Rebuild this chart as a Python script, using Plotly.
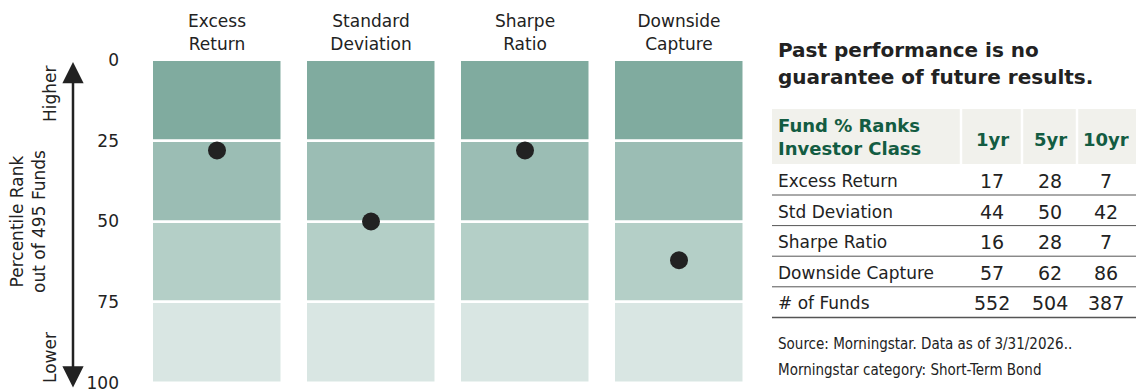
import plotly.graph_objects as go

# ---------------- data ----------------
categories = ["Excess<br>Return", "Standard<br>Deviation", "Sharpe<br>Ratio", "Downside<br>Capture"]
band_edges = [0, 25, 50, 75, 100]
band_colors = ["#80ab9f", "#9bbdb4", "#b4cfc7", "#d9e6e3"]
y_tick_vals = [0, 25, 50, 75, 100]

table_rows = ["Excess Return", "Std Deviation", "Sharpe Ratio", "Downside Capture", "# of Funds"]
table_cols = ["1yr", "5yr", "10yr"]
rank_1yr = [17, 44, 16, 57, 552]
rank_5yr = [28, 50, 28, 62, 504]
rank_10yr = [7, 42, 7, 86, 387]

dot_values = rank_5yr[:4]

title_lines = ["Past performance is no", "guarantee of future results."]
header_label = "Fund % Ranks<br>Investor Class"
source_lines = ["Source: Morningstar. Data as of 3/31/2026..", "Morningstar category: Short-Term Bond"]

# ---------------- layout helpers ----------------
W, H = 1136, 392
ML, MR, MT, MB = 140, 380, 60, 9
PW, PH = W - ML - MR, H - MT - MB


def px(xp):
    return (xp - ML) / PW


def py(yp):
    return (H - MB - yp) / PH


FONT = "DejaVu Sans, Open Sans, sans-serif"
TXT = "#222222"
GREEN = "#135c42"

fig = go.Figure()

xs = list(range(len(categories)))
for i in range(len(band_colors)):
    lo, hi = band_edges[i], band_edges[i + 1]
    fig.add_trace(go.Bar(
        x=xs, y=[hi - lo] * len(xs), base=[lo] * len(xs),
        width=0.85, marker=dict(color=band_colors[i], line=dict(color="white", width=2.5)),
        hoverinfo="skip", showlegend=False,
    ))

fig.add_trace(go.Scatter(
    x=xs, y=dot_values, mode="markers",
    marker=dict(size=18, color=TXT), showlegend=False, hoverinfo="skip",
))

fig.update_layout(
    width=W, height=H, margin=dict(l=ML, r=MR, t=MT, b=MB, autoexpand=False),
    paper_bgcolor="white", plot_bgcolor="white",
    barmode="overlay", bargap=0,
    font=dict(family=FONT, color=TXT),
    xaxis=dict(range=[-0.5, 3.5], side="top", tickvals=xs, ticktext=categories,
               tickfont=dict(size=17, color=TXT), showgrid=False, zeroline=False,
               showline=False, ticks="", ticklabelstandoff=6, fixedrange=True,
               automargin=False),
    yaxis=dict(range=[100, 0], tickvals=y_tick_vals, tickfont=dict(size=17, color=TXT),
               showgrid=False, zeroline=False, showline=False, ticks="",
               ticklabelstandoff=20, ticklabeloverflow="allow", fixedrange=True,
               automargin=False),
)

anns = []
shapes = []

# double arrow
anns.append(dict(xref="paper", yref="paper", x=px(73), y=py(62), ax=0, ay=327,
                 text="", showarrow=True, arrowside="end+start", arrowhead=2,
                 startarrowhead=2, arrowsize=1.7, startarrowsize=1.7, arrowwidth=2.5,
                 arrowcolor=TXT))
anns.append(dict(xref="paper", yref="paper", x=px(50), y=py(94), text="Higher",
                 xanchor="center", yanchor="middle",
                 textangle=-90, showarrow=False, font=dict(size=17, color=TXT)))
anns.append(dict(xref="paper", yref="paper", x=px(50), y=py(358), text="Lower",
                 xanchor="center", yanchor="middle",
                 textangle=-90, showarrow=False, font=dict(size=17, color=TXT)))
anns.append(dict(xref="paper", yref="paper", x=px(28), y=py(222),
                 text="Percentile Rank<br>out of 495 Funds", xanchor="center", yanchor="middle",
                 textangle=-90, showarrow=False, font=dict(size=17, color=TXT)))

# title
for k, line in enumerate(title_lines):
    anns.append(dict(xref="paper", yref="paper", x=px(776), y=py(50 + 27 * k), xanchor="left",
                     yanchor="middle", text="<b>" + line + "</b>", showarrow=False,
                     font=dict(size=20, color=TXT)))

# table header background
shapes.append(dict(type="rect", xref="paper", yref="paper", x0=px(772), x1=px(1140),
                   y0=py(164), y1=py(109), fillcolor="#f1f1ec", line=dict(width=0), layer="below"))
for sx in [961, 1022, 1077]:
    shapes.append(dict(type="line", xref="paper", yref="paper", x0=px(sx), x1=px(sx),
                       y0=py(164), y1=py(109), line=dict(color="white", width=2.5)))
anns.append(dict(xref="paper", yref="paper", x=px(776), y=py(137), xanchor="left", yanchor="middle",
                 text="<b>" + header_label + "</b>", showarrow=False, align="left",
                 font=dict(size=18, color=GREEN)))
col_x = [992, 1050, 1106]
for cx, c in zip(col_x, table_cols):
    anns.append(dict(xref="paper", yref="paper", x=px(cx), y=py(139), xanchor="center",
                     yanchor="middle", text="<b>" + c + "</b>", showarrow=False,
                     font=dict(size=18, color=GREEN)))

row_y0, row_dy = 181, 30.6
for r, name in enumerate(table_rows):
    yy = row_y0 + r * row_dy
    anns.append(dict(xref="paper", yref="paper", x=px(776), y=py(yy), xanchor="left", yanchor="middle",
                     text=name, showarrow=False, font=dict(size=17, color=TXT)))
    for cx, vals in zip(col_x, [rank_1yr, rank_5yr, rank_10yr]):
        anns.append(dict(xref="paper", yref="paper", x=px(cx), y=py(yy), xanchor="center",
                         yanchor="middle", text=str(vals[r]), showarrow=False,
                         font=dict(size=19, color=TXT)))
    ly = yy + 14
    shapes.append(dict(type="line", xref="paper", yref="paper", x0=px(772), x1=px(1140),
                       y0=py(ly), y1=py(ly),
                       line=dict(color="#555555", width=1.5 if r == len(table_rows) - 1 else 1)))

for k, line in enumerate(source_lines):
    anns.append(dict(xref="paper", yref="paper", x=px(776), y=py(344 + 26 * k), xanchor="left",
                     yanchor="middle", text=line, showarrow=False,
                     font=dict(size=15, color=TXT, family="DejaVu Sans Condensed, Roboto, sans-serif")))

fig.update_layout(annotations=anns, shapes=shapes)
fig.write_html("out.html")
